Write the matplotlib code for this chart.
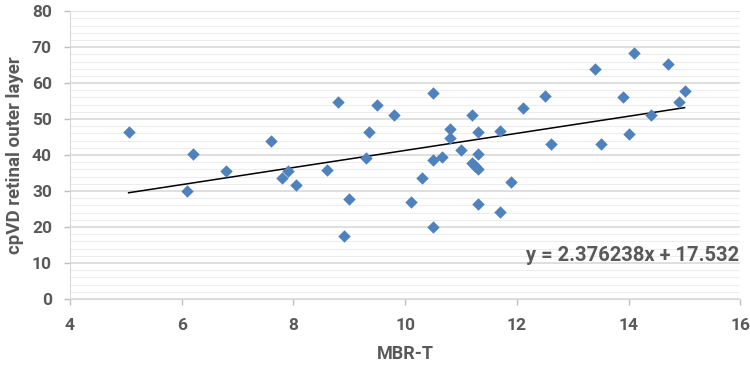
import numpy as np
import matplotlib.pyplot as plt
from matplotlib.ticker import MultipleLocator

mbr_t = [5.05, 6.1, 6.2, 6.8, 7.6, 7.8, 7.9, 8.05, 8.6, 8.8, 8.9, 9.0, 9.3, 9.35,
         9.5, 9.8, 10.1, 10.3, 10.5, 10.5, 10.5, 10.65, 10.8, 10.8, 11.0, 11.2,
         11.2, 11.25, 11.3, 11.3, 11.3, 11.3, 11.7, 11.7, 11.9, 12.1, 12.5, 12.6,
         13.4, 13.5, 13.9, 14.0, 14.1, 14.4, 14.7, 14.9, 15.0]
cpvd = [46.5, 30.0, 40.3, 35.5, 44.0, 33.5, 35.7, 31.8, 35.8, 54.8, 17.5, 27.7,
        39.3, 46.3, 53.8, 51.2, 27.0, 33.7, 57.3, 38.6, 20.1, 39.4, 47.2, 44.7,
        41.4, 51.2, 37.8, 37.0, 36.1, 46.3, 40.2, 26.3, 46.7, 24.3, 32.6, 53.0,
        56.4, 43.2, 64.0, 43.0, 56.2, 45.8, 68.4, 51.0, 65.4, 54.7, 57.7]
slope, intercept = 2.376238, 17.532

plt.rcParams['font.family'] = ['Roboto', 'DejaVu Sans']
plt.rcParams['font.weight'] = 'bold'
txt = '#595959'

fig = plt.figure(figsize=(7.5, 3.71), dpi=100)
ax = fig.add_axes([0.0933, 0.194, 0.894, 0.776])

ax.scatter(mbr_t, cpvd, marker='D', s=40, color='#4F81BD', zorder=3, linewidths=0)
xs = np.array([min(mbr_t), max(mbr_t)])
ax.plot(xs, slope * xs + intercept, color='black', lw=1.1, zorder=2)

ax.set_xlim(4, 16)
ax.set_ylim(0, 80)
ax.xaxis.set_major_locator(MultipleLocator(2))
ax.yaxis.set_major_locator(MultipleLocator(10))
ax.yaxis.set_minor_locator(MultipleLocator(2))
ax.grid(axis='y', which='major', color='#D9D9D9', lw=1.2, zorder=0)
ax.grid(axis='y', which='minor', color='#EDEDED', lw=0.8, zorder=0)
ax.tick_params(axis='y', which='minor', length=0)
ax.tick_params(axis='both', which='major', colors='#BFBFBF', length=4, width=1,
               labelcolor=txt, labelsize=12.5)
ax.tick_params(axis='y', pad=9)
ax.tick_params(axis='x', pad=10)
for s in ['top', 'right']:
    ax.spines[s].set_visible(False)
for s in ['left', 'bottom']:
    ax.spines[s].set_color('#D9D9D9')

ax.set_xlabel('MBR-T', fontsize=13, fontweight='bold', color=txt, labelpad=8)
ax.set_ylabel('cpVD retinal outer layer', fontsize=13.5, fontweight='bold', color=txt, labelpad=6)
ax.text(15.97, 12, 'y = 2.376238x + 17.532', ha='right', va='center',
        fontsize=14.5, fontweight='bold', color=txt)

fig.savefig('out.png', dpi=100)
